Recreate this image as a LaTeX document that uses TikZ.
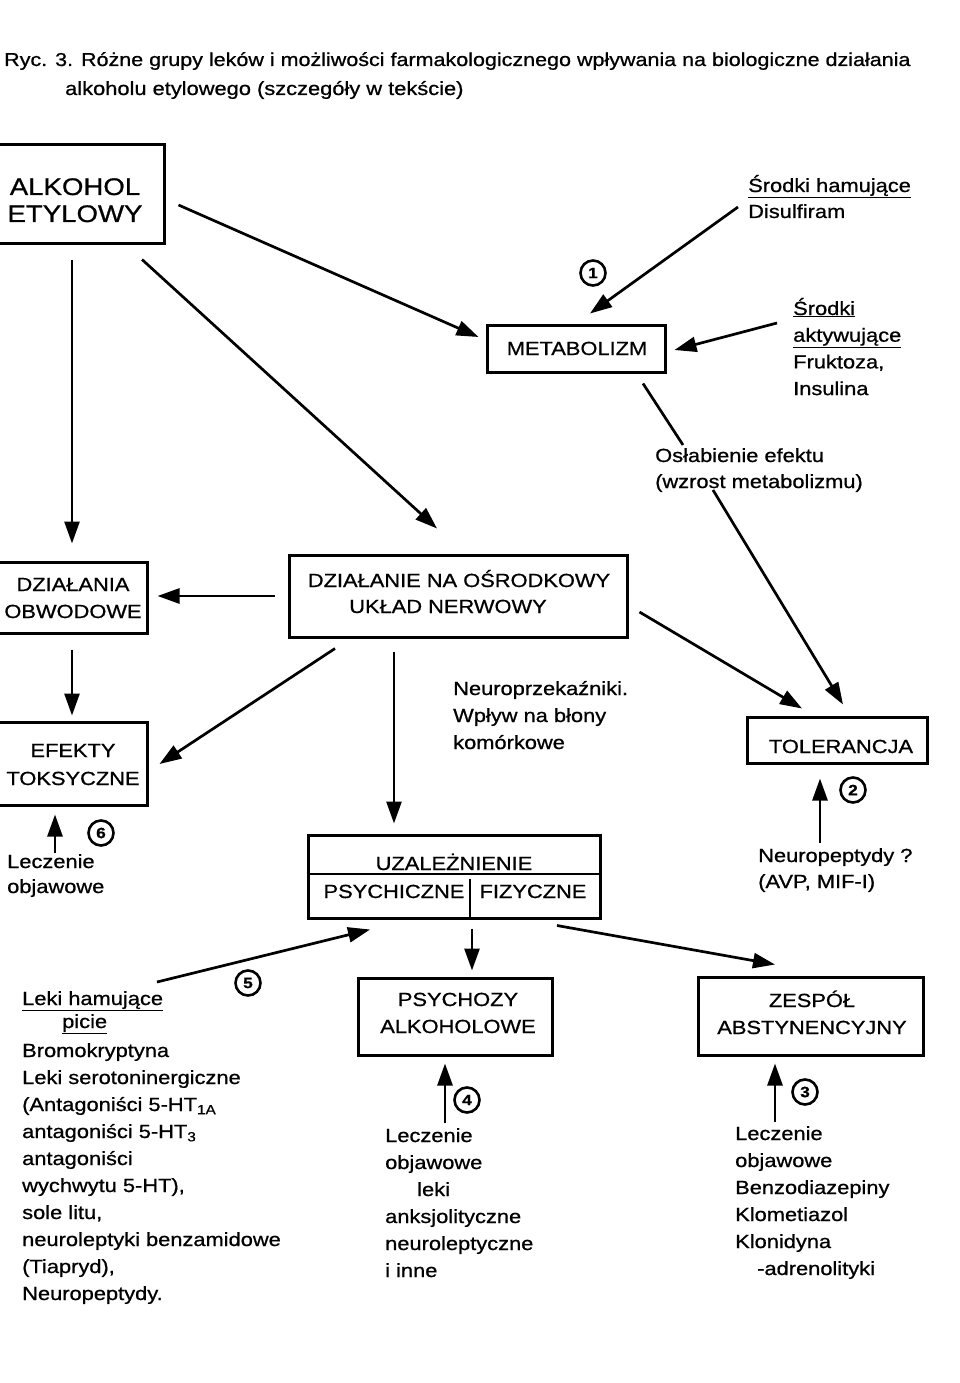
\documentclass[tikz,border=0pt]{standalone}
\usepackage{fontspec}
\setmainfont[FakeStretch=1.15,FakeBold=0.8]{Liberation Sans}
\usetikzlibrary{arrows.meta}
\newcommand\tl[1]{\begin{tabular}[t]{@{}l@{}}#1\end{tabular}}
\newcommand\tc[1]{\begin{tabular}[t]{@{}c@{}}#1\end{tabular}}
\begin{document}
\begin{tikzpicture}[x=1pt,y=-1pt,
  boxnode/.style={draw, line width=3pt, inner sep=0pt},
  txtnode/.style={inner sep=0pt, anchor=base west, font=\fontsize{19}{27}\selectfont},
  captext/.style={inner sep=0pt, anchor=base, font=\fontsize{19}{27}\selectfont},
  bigcaptext/.style={inner sep=0pt, anchor=base, font=\fontsize{24}{27}\selectfont},
  arr/.style={line width=2.7pt, -{Triangle[length=22pt,width=15pt]}},
  plainline/.style={line width=2.7pt},
  numcirc/.style={draw, circle, line width=2.6pt, minimum size=25pt, inner sep=0pt, font=\fontsize{15}{15}\selectfont\bfseries}]
\useasboundingbox (0,0) rectangle (960,1383);
\clip (0,0) rectangle (960,1383);

% title
\node[txtnode, anchor=base west, font=\fontsize{18.7}{27}\selectfont] (t1) at (4,66) {Ryc. 3. Różne grupy leków i możliwości farmakologicznego wpływania na biologiczne działania};
\node[txtnode] (t2) at (65,95) {alkoholu etylowego (szczegóły w tekście)};

% boxes
\node[boxnode, minimum width=204pt, minimum height=98pt] (alk) at (62,194) {};
\node[bigcaptext] (alkT) at (75,195) {\tc{ALKOHOL\\ETYLOWY}};
\node[boxnode, minimum width=178pt, minimum height=47pt] (met) at (576,348.5) {};
\node[captext] (metT) at (577,355) {METABOLIZM};
\node[boxnode, minimum width=338pt, minimum height=82pt] (cns) at (458,596) {};
\node[captext] (cnsT) at (459,587) {\tc{DZIAŁANIE NA OŚRODKOWY\\[-1pt]UKŁAD NERWOWY\hspace*{22pt}}};
\node[boxnode, minimum width=166pt, minimum height=71pt] (obw) at (64,597.5) {};
\node[captext] (obwT) at (73,591) {\tc{DZIAŁANIA\\OBWODOWE}};
\node[boxnode, minimum width=152pt, minimum height=83pt] (efk) at (71,763.5) {};
\node[captext] (efkT) at (73,757) {\tc{EFEKTY\\[1pt]TOKSYCZNE}};
\node[boxnode, minimum width=180pt, minimum height=46pt] (tol) at (837,740) {};
\node[captext] (tolT) at (841,753) {TOLERANCJA};
\node[boxnode, minimum width=292pt, minimum height=83pt] (uza) at (454,876.5) {};
\node[captext] (uzaT) at (454,870) {UZALEŻNIENIE};
\node[captext] (psT) at (394,898) {PSYCHICZNE};
\node[captext] (fzT) at (533,898) {FIZYCZNE};
\draw[plainline] ([yshift=2.5pt]uza.west) -- ([yshift=2.5pt]uza.east);
\draw[plainline] ([shift={(16,2.5)}]uza.center) -- ([xshift=16pt]uza.south);
\node[boxnode, minimum width=194pt, minimum height=77pt] (psy) at (455,1016.5) {};
\node[captext] (psyT) at (458,1006) {\tc{PSYCHOZY\\ALKOHOLOWE}};
\node[boxnode, minimum width=225pt, minimum height=78pt] (zes) at (810.5,1016) {};
\node[captext] (zesT) at (812,1007) {\tc{ZESPÓŁ\\ABSTYNENCYJNY}};

% free texts
\node[txtnode, font=\fontsize{19}{26}\selectfont] (ham) at (748,192) {\tl{\underline{Środki hamujące}\\Disulfiram}};
\node[txtnode, font=\fontsize{19}{26.7}\selectfont] (akt) at (793,315) {\tl{\underline{Środki}\\\underline{aktywujące}\\Fruktoza,\\Insulina}};
\node[txtnode, font=\fontsize{19}{26}\selectfont] (osl) at (655,462) {\tl{Osłabienie efektu\\(wzrost metabolizmu)}};
\node[txtnode] (neu) at (453,695) {\tl{Neuroprzekaźniki.\\Wpływ na błony\\komórkowe}};
\node[txtnode, font=\fontsize{19}{26}\selectfont] (np) at (758,862) {\tl{Neuropeptydy ?\\(AVP, MIF-I)}};
\node[txtnode, font=\fontsize{19}{25}\selectfont] (lec6) at (7,868) {\tl{Leczenie\\objawowe}};
\node[txtnode] (leki) at (22,1005) {\tl{\underline{Leki hamujące}\\[-4pt]\hspace*{40pt}\underline{picie}\\[2pt]Bromokryptyna\\Leki serotoninergiczne\\(Antagoniści 5-HT\textsubscript{1A}\\antagoniści 5-HT\textsubscript{3}\\antagoniści\\wychwytu 5-HT),\\sole litu,\\neuroleptyki benzamidowe\\(Tiapryd),\\Neuropeptydy.}};
\node[txtnode] (lec4) at (385,1142) {\tl{Leczenie\\objawowe\\\hspace*{32pt}leki\\anksjolityczne\\neuroleptyczne\\i inne}};
\node[txtnode] (lec3) at (735,1140) {\tl{Leczenie\\objawowe\\Benzodiazepiny\\Klometiazol\\Klonidyna\\\hspace*{22pt}-adrenolityki}};

% circled numbers
\node[numcirc] (c1) at (593,273) {1};
\node[numcirc] (c2) at (853,790) {2};
\node[numcirc] (c3) at (805,1092) {3};
\node[numcirc] (c4) at (467,1100) {4};
\node[numcirc] (c5) at (248,983) {5};
\node[numcirc] (c6) at (101,833) {6};

% connectors
\draw[arr] ([shift={(13,11)}]alk.east) -- ([shift={(-7,-11.5)}]met.west);
\draw[arr] ([shift={(80,15)}]alk.south) -- ([shift={(-21,-25)}]cns.north);
\draw[arr] ([shift={(10,15)}]alk.south) -- ([shift={(8,-17)}]obw.north);
\draw[arr] ([shift={(-10,15)}]ham.base west) -- ([shift={(14,-10)}]met.north);
\draw[arr] ([shift={(-16,8)}]akt.base west) -- ([shift={(8,1.5)}]met.east);
\draw[plainline] ([shift={(67,10)}]met.south) -- ([shift={(28,-17)}]osl.base west);
\draw[arr] ([shift={(58,28)}]osl.base west) -- ([shift={(6,-11)}]tol.north);
\draw[arr] ([xshift=-13pt]cns.west) -- ([shift={(9,-1.5)}]obw.east);
\draw[arr] ([shift={(8,15)}]obw.south) -- ([shift={(1,-5)}]efk.north);
\draw[arr] ([shift={(-123,10)}]cns.south) -- ([shift={(11,0.5)}]efk.east);
\draw[arr] ([shift={(-64,13)}]cns.south) -- ([shift={(-60,-10)}]uza.north);
\draw[arr] ([shift={(11,16)}]cns.east) -- ([shift={(-35,-7)}]tol.north);
\draw[arr] ([shift={(62,-19)}]np.base west) -- ([shift={(-17,14)}]tol.south);
\draw[arr] ([shift={(48,-15)}]lec6.base west) -- ([shift={(-16,8)}]efk.south);
\draw[arr] ([shift={(18,9)}]uza.south) -- ([shift={(17,-6)}]psy.north);
\draw[arr] ([shift={(135,-23)}]leki.base west) -- ([shift={(-84,10)}]uza.south);
\draw[arr] ([shift={(103,6)}]uza.south) -- ([shift={(-35.5,-11)}]zes.north);
\draw[arr] ([shift={(60,-19)}]lec4.base west) -- ([shift={(-10,7)}]psy.south);
\draw[arr] ([shift={(40,-18)}]lec3.base west) -- ([shift={(-35.5,7)}]zes.south);
\end{tikzpicture}
\end{document}
